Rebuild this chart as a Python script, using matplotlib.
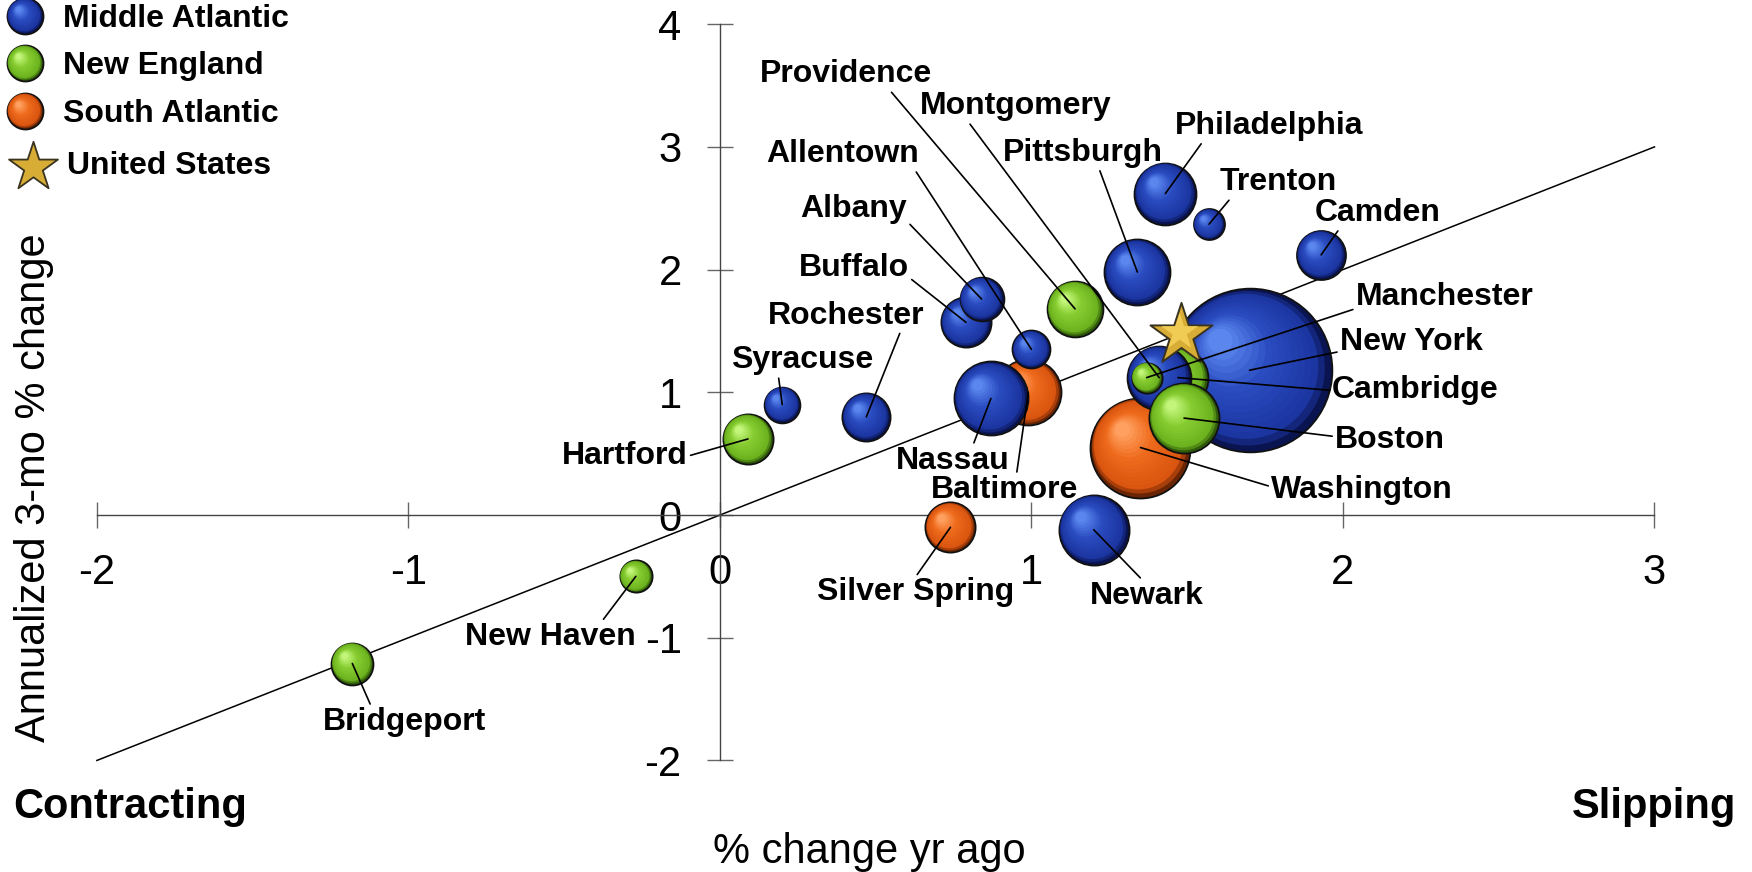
import numpy as np
import matplotlib
matplotlib.use('Agg')
import matplotlib.pyplot as plt
from matplotlib.colors import to_rgb

plt.rcParams['font.family'] = ['Liberation Sans', 'DejaVu Sans']
plt.rcParams['axes.unicode_minus'] = False

DPI = 100

# ---- data (x: % change yr ago, y: annualized 3-mo % change, size: relative employment)
mid_names = ['Philadelphia', 'Trenton', 'Camden', 'Pittsburgh', 'New York', 'Albany', 'Buffalo',
             'Allentown', 'Rochester', 'Syracuse', 'Nassau', 'Newark', 'Montgomery']
mid_x = [1.43, 1.57, 1.93, 1.34, 1.70, 0.84, 0.79, 1.00, 0.47, 0.20, 0.87, 1.20, 1.41]
mid_y = [2.62, 2.37, 2.12, 1.98, 1.18, 1.76, 1.57, 1.35, 0.80, 0.90, 0.95, -0.12, 1.12]
mid_size = [9.6, 2.4, 6.0, 10.9, 67.0, 4.8, 6.3, 3.6, 5.8, 3.2, 13.7, 12.3, 10.2]

ne_names = ['Providence', 'Manchester', 'Cambridge', 'Boston', 'Hartford', 'New Haven', 'Bridgeport']
ne_x = [1.14, 1.37, 1.47, 1.49, 0.09, -0.27, -1.18]
ne_y = [1.68, 1.12, 1.12, 0.79, 0.62, -0.50, -1.21]
ne_size = [7.8, 2.3, 9.0, 12.3, 6.3, 2.6, 4.4]

sa_names = ['Washington', 'Baltimore', 'Silver Spring']
sa_x = [1.35, 0.99, 0.74]
sa_y = [0.55, 1.00, -0.10]
sa_size = [25.0, 10.9, 6.3]

us_x, us_y = 1.48, 1.47

x_ticks = [-2, -1, 0, 1, 2, 3]
y_ticks = [-2, -1, 0, 1, 2, 3, 4]

# ---- label layout: text centre (data coords) and where the leader leaves the text
label_pos = {
    'Providence': (0.405, 3.59, (0.75, 0)), 'Montgomery': (0.95, 3.33, (0.25, 0)),
    'Philadelphia': (1.763, 3.17, (0.15, 0)), 'Allentown': (0.394, 2.94, (0.97, 0)),
    'Pittsburgh': (1.165, 2.95, (0.6, 0)), 'Trenton': (1.792, 2.71, (0.1, 0)),
    'Camden': (2.111, 2.46, (0.2, 0)), 'Albany': (0.43, 2.49, (1, 0.1)),
    'Buffalo': (0.43, 2.01, (1, 0.2)), 'Manchester': (2.326, 1.78, (0, 0.1)),
    'Rochester': (0.405, 1.625, (0.85, 0)), 'New York': (2.219, 1.406, (0, 0.2)),
    'Syracuse': (0.265, 1.26, (0.33, 0)), 'Cambridge': (2.233, 1.015, (0, 0.5)),
    'Boston': (2.151, 0.615, (0, 0.6)), 'Hartford': (-0.305, 0.48, (1, 0.5)),
    'Nassau': (0.746, 0.443, (0.68, 1)), 'Baltimore': (0.914, 0.206, (0.58, 1)),
    'Washington': (2.061, 0.206, (0, 0.6)), 'Silver Spring': (0.627, -0.63, (0.5, 1)),
    'Newark': (1.369, -0.657, (0.47, 1)), 'New Haven': (-0.545, -0.994, (0.8, 1)),
    'Bridgeport': (-1.014, -1.685, (0.3, 1)),
}

palettes = {
    'mid': ['#0a1450', '#1b35a0', '#2a4cc0', '#5a86ee'],
    'ne': ['#2f5a0a', '#6cb21e', '#86cc30', '#c2f57a'],
    'sa': ['#6a2504', '#d9540f', '#ee6a1c', '#ffa060'],
}

# drawing order (back to front)
draw_order = ['New York', 'Washington', 'Baltimore', 'Cambridge', 'Montgomery', 'Boston', 'Manchester',
              'Nassau', 'Allentown', 'Providence', 'Pittsburgh', 'Philadelphia', 'Trenton', 'Camden',
              'Buffalo', 'Albany', 'Rochester', 'Syracuse', 'Hartford', 'Silver Spring', 'Newark',
              'New Haven', 'Bridgeport']

points = {}
for key, names, xs, ys, ss in [('mid', mid_names, mid_x, mid_y, mid_size),
                               ('ne', ne_names, ne_x, ne_y, ne_size),
                               ('sa', sa_names, sa_x, sa_y, sa_size)]:
    for n, x, y, s in zip(names, xs, ys, ss):
        points[n] = (x, y, s, key)

fig = plt.figure(figsize=(17.52, 8.72), dpi=DPI)
ax = fig.add_axes([0, 0, 1, 1])
ax.set_xlim(-2.311, 3.313)
ax.set_ylim(-2.909, 4.197)
ax.patch.set_visible(False)


def sphere(x, y, r, pal, z, trans):
    stops = np.array([to_rgb(c) for c in pal])
    p0 = trans.transform((x, y))
    p1 = trans.transform((x + 1, y + 1))
    ux, uy = p1 - p0
    n = 16
    for i in range(n):
        t = i / (n - 1)
        f = 1 - 0.85 * t
        col = [np.interp(t, [0, 0.12, 0.6, 1.0], stops[:, k]) for k in range(3)]
        off = (1 - f) * 0.42 * r
        d_pt = 2 * r * f * 72 / DPI
        ax.scatter([x - off / ux], [y + off / uy], s=d_pt ** 2, color=col,
                   edgecolors='#111111' if i == 0 else 'none', linewidths=1.3 if i == 0 else 0,
                   zorder=z + i * 0.001, transform=trans, clip_on=False)


# axes through the origin
for side in ['top', 'right']:
    ax.spines[side].set_visible(False)
ax.spines['left'].set_position(('data', 0))
ax.spines['bottom'].set_position(('data', 0))
ax.spines['left'].set_bounds(-2, 4)
ax.spines['bottom'].set_bounds(-2, 3)
for side in ['left', 'bottom']:
    ax.spines[side].set_color('#444444')
    ax.spines[side].set_linewidth(1.0)
ax.set_xticks(x_ticks)
ax.set_yticks(y_ticks)
ax.set_xticklabels([str(v) for v in x_ticks])
ax.set_yticklabels([str(v) for v in y_ticks])
ax.tick_params(direction='inout', length=19, width=1.0, color='#666666', labelsize=30)
ax.tick_params(axis='y', pad=18)
ax.tick_params(axis='x', pad=18)

# diagonal reference line
ax.plot([-2, 3], [-2, 3], color='black', lw=1.1, zorder=1)

# bubbles
for z, name in enumerate(draw_order):
    x, y, s, key = points[name]
    r = 10 * np.sqrt(s)
    sphere(x, y, r, palettes[key], 2 + z * 0.05, ax.transData)

# United States star
ax.scatter([us_x], [us_y], marker='*', s=47 ** 2, color='#d8ad35', edgecolors='#3a3320', linewidths=1.4, zorder=4)
ax.scatter([us_x - 0.004], [us_y + 0.02], marker='*', s=28 ** 2, color='#f0cc55', edgecolors='none', zorder=4.01)

# labels with leader lines
for name, (tx, ty, rp) in label_pos.items():
    x, y, s, key = points[name]
    ax.annotate(name, xy=(x, y), xytext=(tx, ty), textcoords='data', ha='center', va='center',
                fontsize=23, fontweight='bold', zorder=5,
                arrowprops=dict(arrowstyle='-', color='black', lw=1.2, shrinkA=0, shrinkB=0, relpos=rp))

# legend drawn in figure pixels
W, H = 1752, 872
leg = [('Middle Atlantic', 'mid', 16), ('New England', 'ne', 63), ('South Atlantic', 'sa', 111)]
for text, key, py in leg:
    sphere(25 / W, 1 - py / H, 18, palettes[key], 6, fig.transFigure)
    fig.text(63 / W, 1 - (py + 11) / H, text, fontsize=23, fontweight='bold', va='baseline')
ax.scatter([33 / W], [1 - 167 / H], marker='*', s=37 ** 2, color='#d8ad35', edgecolors='#3a3320',
           linewidths=1.3, transform=fig.transFigure, clip_on=False, zorder=6)
fig.text(67 / W, 1 - (163 + 11) / H, 'United States', fontsize=23, fontweight='bold', va='baseline')

# axis titles and corner notes
fig.text(869 / W, 1 - 852 / H, '% change yr ago', fontsize=30, ha='center', va='center')
fig.text(34 / W, 1 - 488 / H, 'Annualized 3-mo % change', fontsize=30, ha='center', va='center', rotation=90)
fig.text(13 / W, 1 - 807 / H, 'Contracting', fontsize=30, fontweight='bold', ha='left', va='center')
fig.text(1736 / W, 1 - 807 / H, 'Slipping', fontsize=30, fontweight='bold', ha='right', va='center')

fig.savefig('out.png', dpi=DPI)
